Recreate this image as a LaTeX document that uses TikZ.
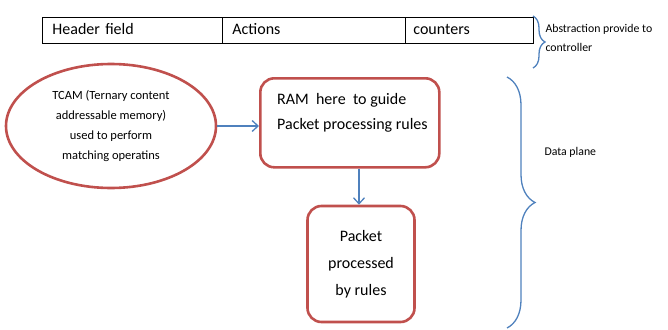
\documentclass[tikz,border=0pt]{standalone}
\usepackage{fontspec}
\setmainfont{Carlito}
\usetikzlibrary{positioning}
\usetikzlibrary{shapes.geometric}
\usetikzlibrary{arrows.meta}
\usetikzlibrary{decorations.pathreplacing}
\definecolor{boxred}{HTML}{C0504D}
\definecolor{linkblue}{HTML}{4F81BD}
\tikzset{
	cell/.style={draw,line width=0.8pt,minimum height=26pt,inner sep=0pt,anchor=north west,text height=11pt,text depth=3pt,font=\fontsize{16}{16}\selectfont},
	rulebox/.style={draw=boxred,line width=2.6pt,rounded corners=14pt,inner sep=0pt},
	link/.style={draw=linkblue,line width=1.3pt,-{Straight Barb[length=6pt,width=11pt]}},
	sidebrace/.style={draw=linkblue,line width=1.3pt,decorate},
	sidetext/.style={anchor=west,align=left,font=\fontsize{11.8}{19}\selectfont},
}

\begin{document}
\begin{tikzpicture}[x=1pt,y=-1pt]
		\useasboundingbox (0,0) rectangle (668,329);
		
		% table row.....................
		\node [cell,minimum width=180pt,text width=170pt] (hdr) at (42,17) {\hspace*{5pt}Header field};
		\node [cell,minimum width=183pt,text width=173pt] (act) at (222,17) {\hspace*{5pt}Actions};
		\node [cell,minimum width=128pt,text width=118pt] (cnt) at (405,17) {\hspace*{3pt}counters};
		
		% brace for the table.....................
		\draw [sidebrace,decoration={brace,amplitude=12pt}] (533,16) -- (533,68);
		\node [sidetext] (abs) at (542,38) {Abstraction provide to\\controller};
		
		% TCAM ellipse....................
		\node [ellipse,draw=boxred,line width=2.6pt,minimum width=210pt,minimum height=124pt,inner sep=0pt,
			align=center,font=\fontsize{12.5}{20}\selectfont] (tcam) at (111,126)
			{TCAM (Ternary content\\addressable memory)\\used to perform\\matching operatins};
		
		% RAM box....................
		\node [rulebox,minimum width=179pt,minimum height=89pt,anchor=north west] (ram) at (259,77) {};
		\node [anchor=north west,align=left,inner sep=0pt,font=\fontsize{16}{25}\selectfont] (ramtext) at (277,93)
			{RAM\ \ here\ \ to guide\\Packet processing\ rules};
		
		% packet box....................
		\node [rulebox,minimum width=107pt,minimum height=116pt,align=center,
			font=\fontsize{16}{27}\selectfont] (pkt) at (361,264) {Packet\\processed\\by rules};
		
		% arrows.......................
		\draw [link] (tcam.east) -- (ram.west |- tcam.east);
		\draw [link] (ram.south -| 359,0) -- (pkt.north -| 359,0);
		
		% brace for the data plane....................
		\draw [sidebrace,decoration={brace,amplitude=28pt}] (507,77) -- (507,328);
		\node [sidetext] (dp) at (541,152) {Data plane};
		
	\end{tikzpicture}
\end{document}
